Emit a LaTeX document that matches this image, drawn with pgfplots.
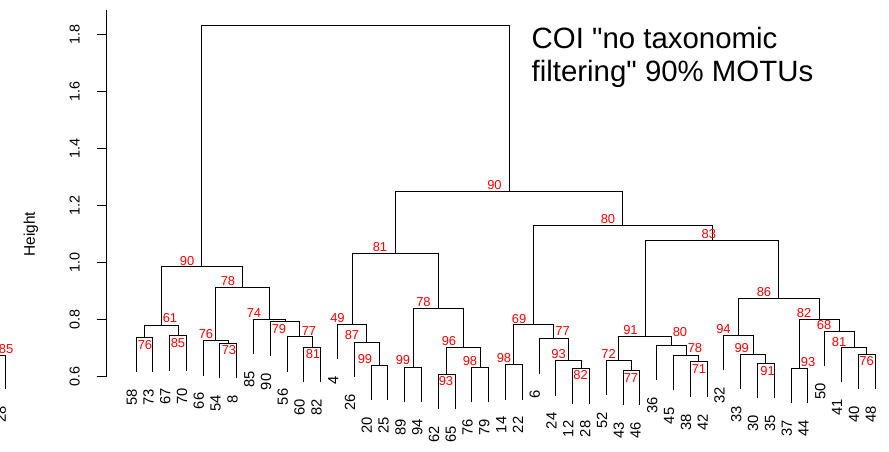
\documentclass[border=0pt]{standalone}
\usepackage{fontspec}
\setmainfont{Liberation Sans}[Ligatures=TeXOff]
\usepackage{pgfplots}
\pgfplotsset{compat=1.18}
\definecolor{aured}{RGB}{255,0,0}

\begin{document}
\begin{tikzpicture}
\useasboundingbox (0,0) rectangle (889bp,452bp);
\begin{axis}[
    at={(106.4bp,75.3bp)}, anchor=south west,
    scale only axis, width=782.6bp, height=366.7bp,
    xmin=-0.76, xmax=45.834, ymin=0.6, ymax=1.8844,
    axis x line=none, axis y line=left,
    axis line style={-, line width=0.9bp},
    ytick={0.6,0.8,1.0,1.2,1.4,1.6,1.8},
    yticklabels={0.6,0.8,1.0,1.2,1.4,1.6,1.8},
    tick align=outside, major tick length=9.7bp,
    tick style={line width=0.9bp, black},
    yticklabel style={font=\fontsize{14.4}{17}\selectfont, xshift=-22bp, rotate=90, anchor=center},
    ylabel={Height},
    every axis y label/.style={at={(rel axis cs:0,0.389)}, xshift=-75.4bp, rotate=90, anchor=center, font=\fontsize{15.5}{18}\selectfont},
    clip=false,
    unbounded coords=jump,
]
% dendrogram links: each block is left leg, bar, right leg
\addplot[black, line width=0.9bp] table {
x y
1 0.616
1 0.738
2 0.738
2 0.616
nan nan
3 0.621
3 0.743
4 0.743
4 0.621
nan nan
1.5 0.738
1.5 0.778
3.5 0.778
3.5 0.743
nan nan
6 0.595
6 0.717
7 0.717
7 0.595
nan nan
5 0.604
5 0.726
6.5 0.726
6.5 0.717
nan nan
11 0.582
11 0.704
12 0.704
12 0.582
nan nan
10 0.618
10 0.740
11.5 0.740
11.5 0.704
nan nan
9 0.671
9 0.793
10.75 0.793
10.75 0.740
nan nan
8 0.679
8 0.801
9.875 0.801
9.875 0.793
nan nan
5.75 0.726
5.75 0.914
8.9375 0.914
8.9375 0.801
nan nan
2.5 0.778
2.5 0.985
7.34375 0.985
7.34375 0.914
nan nan
15 0.518
15 0.640
16 0.640
16 0.518
nan nan
14 0.5995
14 0.7215
15.5 0.7215
15.5 0.640
nan nan
13 0.6615
13 0.7835
14.75 0.7835
14.75 0.7215
nan nan
17 0.512
17 0.634
18 0.634
18 0.512
nan nan
19 0.4875
19 0.6095
20 0.6095
20 0.4875
nan nan
21 0.511
21 0.633
22 0.633
22 0.511
nan nan
19.5 0.6095
19.5 0.703
21.5 0.703
21.5 0.633
nan nan
17.5 0.634
17.5 0.838
20.5 0.838
20.5 0.703
nan nan
13.875 0.7835
13.875 1.032
19 1.032
19 0.838
nan nan
23 0.520
23 0.642
24 0.642
24 0.520
nan nan
27 0.506
27 0.628
28 0.628
28 0.506
nan nan
26 0.534
26 0.656
27.5 0.656
27.5 0.628
nan nan
25 0.611
25 0.733
26.75 0.733
26.75 0.656
nan nan
23.5 0.642
23.5 0.782
25.875 0.782
25.875 0.733
nan nan
30 0.500
30 0.622
31 0.622
31 0.500
nan nan
29 0.536
29 0.658
30.5 0.658
30.5 0.622
nan nan
34 0.530
34 0.652
35 0.652
35 0.530
nan nan
33 0.552
33 0.674
34.5 0.674
34.5 0.652
nan nan
32 0.589
32 0.711
33.75 0.711
33.75 0.674
nan nan
29.75 0.658
29.75 0.740
32.875 0.740
32.875 0.711
nan nan
38 0.525
38 0.647
39 0.647
39 0.525
nan nan
37 0.5575
37 0.6795
38.5 0.6795
38.5 0.647
nan nan
36 0.623
36 0.745
37.75 0.745
37.75 0.6795
nan nan
40 0.5085
40 0.6305
41 0.6305
41 0.5085
nan nan
44 0.5565
44 0.6785
45 0.6785
45 0.5565
nan nan
43 0.581
43 0.703
44.5 0.703
44.5 0.6785
nan nan
42 0.638
42 0.760
43.75 0.760
43.75 0.703
nan nan
40.5 0.6305
40.5 0.801
42.875 0.801
42.875 0.760
nan nan
36.875 0.745
36.875 0.873
41.6875 0.873
41.6875 0.801
nan nan
31.3125 0.740
31.3125 1.077
39.28125 1.077
39.28125 0.873
nan nan
24.6875 0.782
24.6875 1.1306
35.296875 1.1306
35.296875 1.077
nan nan
16.4375 1.032
16.4375 1.2504
29.9921875 1.2504
29.9921875 1.1306
nan nan
4.921875 0.985
4.921875 1.8294
23.21484375 1.8294
23.21484375 1.2504
};
% clipped piece of the neighbouring panel at the left edge
\addplot[black, line width=0.9bp] coordinates {(-7.5,0.676) (-6.8,0.676) (-6.8,0.556)};

% leaf labels: position / name / bottom of leaf
\foreach \i/\l/\b in {1/58/0.616, 2/73/0.616, 3/67/0.621, 4/70/0.621, 5/66/0.604,
    6/54/0.595, 7/8/0.595, 8/85/0.679, 9/90/0.671, 10/56/0.618, 11/60/0.582,
    12/82/0.582, 13/4/0.6615, 14/26/0.5995, 15/20/0.518, 16/25/0.518, 17/89/0.512,
    18/94/0.512, 19/62/0.4875, 20/65/0.4875, 21/76/0.511, 22/79/0.511, 23/14/0.520,
    24/22/0.520, 25/6/0.611, 26/24/0.534, 27/12/0.506, 28/28/0.506, 29/52/0.536,
    30/43/0.500, 31/46/0.500, 32/36/0.589, 33/45/0.552, 34/38/0.530, 35/42/0.530,
    36/32/0.623, 37/33/0.5575, 38/30/0.525, 39/35/0.525, 40/37/0.5085, 41/44/0.5085,
    42/50/0.638, 43/41/0.581, 44/40/0.5565, 45/48/0.5565, -6.8/28/0.556} {
  \edef\temp{\noexpand\node[rotate=90, anchor=base east, inner sep=0pt,
      font=\noexpand\fontsize{14.8}{17}\noexpand\selectfont]
      at ([yshift=-17bp, xshift=0.8bp]axis cs:\i,\b) {\l};}
  \temp
}

% AU values
\foreach \x/\y/\l in {4.049/1.0042/90, 3.024/0.8056/61, 1.536/0.711/76, 3.501/0.718/85,
    5.168/0.7485/76, 6.537/0.6935/73, 6.478/0.935/78, 8.026/0.823/74, 9.515/0.767/79,
    11.30/0.760/77, 11.539/0.678/81, 15.528/1.0543/81, 12.998/0.8056/49, 13.861/0.7443/87,
    14.635/0.663/99, 18.118/0.8616/78, 16.898/0.6595/99, 19.637/0.724/96, 19.458/0.585/93,
    20.887/0.654/98, 23.805/0.8032/69, 22.911/0.6655/98, 26.395/0.759/77, 26.157/0.6795/93,
    27.467/0.607/82, 30.443/0.762/91, 29.145/0.6795/72, 30.473/0.5965/77, 33.39/0.7576/80,
    34.283/0.702/78, 34.52/0.628/71, 35.98/0.767/94, 37.064/0.7005/99, 38.6/0.621/91,
    40.774/0.823/82, 41.965/0.78/68, 42.858/0.7215/81, 44.496/0.656/76, 41.012/0.6515/93,
    38.39/0.8967/86, 35.11/1.0998/83, 29.103/1.152/80, 22.346/1.2725/90, -6.73/0.6955/85} {
  \edef\temp{\noexpand\node[text=aured, inner sep=0pt,
      font=\noexpand\fontsize{13}{15}\noexpand\selectfont]
      at (axis cs:\x,\y) {\l};}
  \temp
}
\end{axis}
\node[anchor=base west, inner sep=0pt, font=\fontsize{29.5}{34}\selectfont] at (531.5bp,403.7bp) {COI "no taxonomic};
\node[anchor=base west, inner sep=0pt, font=\fontsize{29.5}{34}\selectfont] at (531.5bp,370.3bp) {filtering" 90\% MOTUs};
\end{tikzpicture}
\end{document}
